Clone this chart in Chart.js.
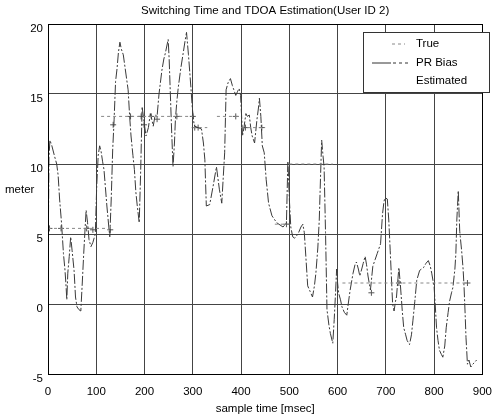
<!DOCTYPE html>
<html><head><meta charset="utf-8">
<script src="https://cdn.jsdelivr.net/npm/chart.js@4/dist/chart.umd.min.js"></script>
<style>html,body{margin:0;padding:0;background:#fff;}</style>
</head><body>
<canvas id="c" width="503" height="416"></canvas>
<script>
const titleText = 'Switching Time and TDOA Estimation(User ID 2)';
const xTitle = 'sample time [msec]';
const yTitle = 'meter';
const xTicks = [0, 100, 200, 300, 400, 500, 600, 700, 800, 900];
const yTicks = [-5, 0, 5, 10, 15, 20];
const seriesNames = ['True', 'PR Bias', 'Estimated'];

const biasX = [0,2,4,8,14,18,21,24,28,32,35,37,39,41,44,47,50,54,57,60,64,68,71,74,77,79,82,85,89,93,98,101,104,107,110,113,116,119,122,126,128,131,134,137,140,143,146,149,152,156,160,166,169,172,176,179,182,185,189,192,195,199,203,208,212,215,218,222,226,230,236,240,243,249,251,253,256,259,262,264,267,270,275,280,284,287,291,296,299,302,304,311,318,322,325,328,335,342,349,355,360,363,366,369,373,378,382,385,389,393,396,399,401,403,406,410,413,417,420,423,428,433,436,438,441,444,448,452,457,464,474,487,494,497,500,503,507,511,518,524,528,531,534,538,543,548,552,555,559,562,565,567,570,572,575,578,582,585,590,593,596,598,600,602,606,609,614,619,622,626,632,636,639,643,646,650,653,657,660,663,668,673,678,682,689,693,696,698,703,706,709,712,714,717,720,722,725,727,730,734,737,741,744,749,753,756,760,764,770,778,783,788,792,795,800,803,805,808,811,815,818,822,825,829,832,836,839,843,845,847,850,853,857,860,862,864,866,869,872,876,880,883,888];
const biasY = [1.8,10.5,11.7,11.3,10.5,10.0,9.2,7.5,5.8,3.6,2.5,1.5,0.3,2.2,3.4,4.8,3.8,2.4,0.5,-0.2,-0.4,-0.5,1.5,3.6,5.5,6.7,5.8,4.6,4.1,4.4,5.0,8.5,10.6,11.3,10.9,10.2,9.6,8.3,7.0,5.5,4.8,7.5,11.0,13.2,15.9,16.8,18.0,18.7,18.2,17.8,16.8,15.3,13.5,12.0,10.6,9.6,8.0,7.0,5.8,9.5,14.1,13.0,12.0,12.6,13.6,13.2,12.7,13.5,13.4,15.0,16.7,17.5,17.9,18.9,17.5,15.5,12.5,9.8,11.5,13.2,14.5,15.5,16.8,17.9,18.8,19.4,17.8,15.5,14.0,13.0,12.7,12.6,12.5,11.5,10.3,7.0,7.1,8.4,9.8,8.2,7.2,9.0,10.8,15.3,15.8,16.1,15.6,15.3,14.9,15.2,15.4,14.9,13.5,12.0,12.6,13.6,13.4,13.5,12.6,12.0,11.5,13.2,14.0,14.7,13.4,11.3,10.8,8.9,7.2,6.3,5.8,5.5,5.8,10.2,7.5,5.5,4.8,4.7,5.0,5.5,5.7,5.1,3.5,1.3,0.9,0.5,1.3,2.2,4.0,6.0,9.5,11.7,10.5,9.8,5.1,-0.4,-1.5,-2.1,-2.8,-1.1,1.0,2.5,1.5,0.8,0.3,-0.2,-0.6,-0.8,0.0,1.0,2.2,2.8,3.0,2.5,2.0,2.5,2.9,3.4,2.8,2.0,1.0,2.7,3.2,3.6,4.3,6.4,7.3,7.6,7.5,6.0,3.8,1.5,0.0,-0.5,0.2,0.5,1.8,2.6,1.4,-0.5,-1.7,-2.2,-2.6,-2.9,-2.2,-1.2,0.2,1.7,2.4,2.6,2.9,3.1,2.7,2.2,1.2,-0.5,-1.7,-2.6,-3.3,-3.6,-3.8,-3.0,-1.7,-0.6,0.2,0.8,1.2,2.5,3.6,6.0,8.1,5.2,3.8,2.5,1.2,-0.5,-2.4,-4.3,-4.0,-4.5,-4.3,-4.2,-4.0];

const trueX = [0,130,null,110,300,null,300,330,null,350,400,null,400,450,null,470,500,null,500,590,null,610,870];
const trueY = [5.4,5.4,null,13.4,13.4,null,12.6,12.6,null,13.4,13.4,null,12.6,12.6,null,5.7,5.7,null,10.0,10.0,null,1.5,1.5];

const estX = [3,27,80,93,129,135,171,193,199,214,226,267,300,304,311,389,409,443,494,670,727,869];
const estY = [5.4,5.4,5.4,5.3,5.3,12.8,13.4,13.4,12.8,13.4,13.2,13.4,13.4,12.6,12.6,13.4,12.6,12.6,5.7,0.8,1.5,1.5];

const FONT = '"Liberation Sans", Arial, Helvetica, sans-serif';
Chart.defaults.font.family = FONT;
Chart.defaults.font.size = 11.5;
Chart.defaults.color = '#000';

const pts = (xs, ys) => xs.map((x, i) => ({x: x === null ? NaN : x, y: ys[i]}));

const boxPlugin = {
  id: 'box',
  afterDatasetsDraw(chart) {
    const {ctx, chartArea: a} = chart;
    ctx.save();
    ctx.strokeStyle = '#000';
    ctx.lineWidth = 1;
    ctx.strokeRect(Math.round(a.left) + 0.5, Math.round(a.top) + 0.5, Math.round(a.right - a.left), Math.round(a.bottom - a.top));
    // y axis label (horizontal)
    ctx.fillStyle = '#000';
    ctx.font = '11.5px ' + FONT;
    ctx.textAlign = 'left';
    ctx.textBaseline = 'middle';
    ctx.fillText(yTitle, 5, 190);
    // legend
    const lx = 363, ly = 32, lw = 126, lh = 60;
    ctx.fillStyle = '#fff';
    ctx.fillRect(lx, ly, lw, lh);
    ctx.strokeStyle = '#333';
    ctx.strokeRect(lx + 0.5, ly + 0.5, lw, lh);
    const rows = [43.5, 62.5, 81];
    ctx.fillStyle = '#000';
    seriesNames.forEach((n, i) => ctx.fillText(n, 416, rows[i]));
    ctx.lineWidth = 1;
    ctx.strokeStyle = '#888';
    ctx.setLineDash([3, 3]);
    ctx.beginPath(); ctx.moveTo(392, rows[0] + 0.5); ctx.lineTo(405, rows[0] + 0.5); ctx.stroke();
    ctx.strokeStyle = '#333';
    ctx.setLineDash([]);
    ctx.beginPath(); ctx.moveTo(372, rows[1] + 0.5); ctx.lineTo(391, rows[1] + 0.5); ctx.stroke();
    ctx.setLineDash([3, 3]);
    ctx.beginPath(); ctx.moveTo(393, rows[1] + 0.5); ctx.lineTo(410, rows[1] + 0.5); ctx.stroke();
    ctx.restore();
  }
};

new Chart(document.getElementById('c'), {
  type: 'scatter',
  data: {
    datasets: [
      {label: seriesNames[0], data: pts(trueX, trueY), showLine: true, spanGaps: false, pointRadius: 0,
       borderColor: '#888', borderWidth: 1, borderDash: [3, 3]},
      {label: seriesNames[1], data: pts(biasX, biasY), showLine: true, pointRadius: 0,
       borderColor: '#3a3a3a', borderWidth: 1, borderDash: [10, 2, 2, 2], tension: 0},
      {label: seriesNames[2], data: pts(estX, estY), showLine: false, pointStyle: 'cross', pointRadius: 3,
       borderColor: '#555', borderWidth: 1}
    ]
  },
  options: {
    responsive: false, animation: false, devicePixelRatio: 1,
    layout: {padding: {left: 0, right: 11, top: 0, bottom: 0}},
    plugins: {
      legend: {display: false},
      tooltip: {enabled: false},
      title: {display: true, text: titleText, color: '#000', fullSize: false,
              font: {size: 11.5, weight: 'normal'}, padding: {top: 4, bottom: 6.2}}
    },
    scales: {
      x: {type: 'linear', min: 0, max: 900,
          afterBuildTicks: s => { s.ticks = xTicks.map(v => ({value: v})); },
          grid: {color: '#444', drawTicks: false, lineWidth: 1},
          border: {display: true, color: '#000'},
          ticks: {padding: 11, maxRotation: 0, autoSkip: false, color: '#000'},
          title: {display: true, text: xTitle, color: '#000', padding: {top: 2, bottom: 0}},
          afterFit: s => { s.height = 42; }},
      y: {type: 'linear', min: -5, max: 20,
          afterBuildTicks: s => { s.ticks = yTicks.map(v => ({value: v})); },
          grid: {color: '#444', drawTicks: false, lineWidth: 1},
          border: {display: true, color: '#000'},
          ticks: {padding: 5, labelOffset: 5, color: '#000'},
          afterFit: s => { s.width = 48; }}
    }
  },
  plugins: [boxPlugin]
});
</script>
</body></html>
